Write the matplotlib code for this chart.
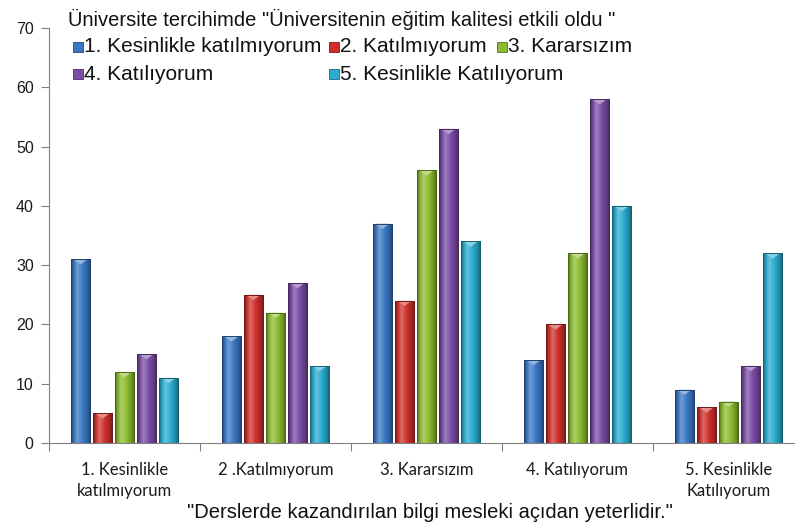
import numpy as np
import matplotlib.pyplot as plt
from matplotlib.colors import LinearSegmentedColormap, to_rgb
from matplotlib.patches import Rectangle, Polygon

# data
categories = ['1. Kesinlikle\nkatılmıyorum', '2 .Katılmıyorum', '3. Kararsızım',
              '4. Katılıyorum', '5. Kesinlikle\nKatılıyorum']
series = ['1. Kesinlikle katılmıyorum', '2. Katılmıyorum', '3. Kararsızım',
          '4. Katılıyorum', '5. Kesinlikle Katılıyorum']
s1 = [31, 18, 37, 14, 9]
s2 = [5, 25, 24, 20, 6]
s3 = [12, 22, 46, 32, 7]
s4 = [15, 27, 53, 58, 13]
s5 = [11, 13, 34, 40, 32]
values = [s1, s2, s3, s4, s5]
yticks = [0, 10, 20, 30, 40, 50, 60, 70]

title = 'Üniversite tercihimde "Üniversitenin eğitim kalitesi etkili oldu "'
xlabel = '"Derslerde kazandırılan bilgi mesleki açıdan yeterlidir."'
colors = ['#3a78c6', '#cf302b', '#8cbc30', '#7a4ca6', '#2aaccf']

W, H = 795, 528


def mix(c, other, t):
    c = np.array(to_rgb(c))
    return tuple(c * (1 - t) + np.array(other) * t)


def cyl_cmap(c):
    # dark edge -> highlight -> base -> dark edge, like the excel cylinder fill
    return LinearSegmentedColormap.from_list('cyl', [
        (0.0, mix(c, (0, 0, 0), 0.45)),
        (0.12, mix(c, (0, 0, 0), 0.1)),
        (0.32, mix(c, (1, 1, 1), 0.28)),
        (0.6, to_rgb(c)),
        (0.88, mix(c, (0, 0, 0), 0.25)),
        (1.0, mix(c, (0, 0, 0), 0.5)),
    ])


plt.rcParams['font.family'] = ['Liberation Sans', 'DejaVu Sans']
fig = plt.figure(figsize=(W / 100, H / 100), dpi=100)
ax = fig.add_axes([49 / W, 85 / H, 755 / W, 415 / H])

x = np.arange(len(categories))
pitch = 0.146
bw = 0.126
grad = np.linspace(0, 1, 64).reshape(1, -1)

for i, (vals, c) in enumerate(zip(values, colors)):
    pos = x + (i - 2) * pitch
    bars = ax.bar(pos, vals, bw, facecolor='none',
                  edgecolor=mix(c, (0, 0, 0), 0.45), linewidth=0.7, zorder=3)
    cmap = cyl_cmap(c)
    for p in bars.patches:
        x0, w, h = p.get_x(), p.get_width(), p.get_height()
        im = ax.imshow(grad, cmap=cmap, extent=[x0, x0 + w, 0, h],
                       aspect='auto', zorder=2, interpolation='bilinear')
        im.set_clip_path(p)
        cap = Polygon([[x0 + 0.12 * w, h], [x0 + 0.88 * w, h], [x0 + 0.5 * w, h - 0.9]],
                      closed=True, facecolor=mix(c, (1, 1, 1), 0.45),
                      edgecolor='none', zorder=2.5)
        ax.add_patch(cap)

ax.set_xlim(-0.5, 4.5)
ax.set_ylim(0, 70)
ax.set_yticks(yticks)
ax.set_xticks(np.arange(-0.5, 5.0, 1.0))
ax.set_xticklabels([])
ax.set_xticks(x, categories, minor=True)
ax.tick_params(axis='x', which='major', length=6, color='#808080', width=0.8)
ax.tick_params(axis='x', which='minor', length=0, pad=14, labelsize=12,
               labelcolor='#1a1a1a')
ax.tick_params(axis='y', length=6, color='#808080', width=0.8, pad=5,
               labelsize=11.5, labelcolor='#1a1a1a')
for lab in ax.get_xticklabels(minor=True):
    lab.set_family(['Lato', 'DejaVu Sans'])
    lab.set_linespacing(1.35)
for side in ['top', 'right']:
    ax.spines[side].set_visible(False)
for side in ['left', 'bottom']:
    ax.spines[side].set_color('#808080')
    ax.spines[side].set_linewidth(0.8)

fig.text(68 / W, 1 - 19 / H, title, fontsize=14.5, va='center', color='#111111')

# legend laid out like the excel one
leg_pos = [(73, 47), (329, 47), (497, 47), (73, 74), (329, 74)]
for (px, py), name, c in zip(leg_pos, series, colors):
    fig.patches.append(Rectangle((px / W, 1 - (py + 5) / H), 10 / W, 10 / H,
                                 transform=fig.transFigure, figure=fig,
                                 facecolor=c, edgecolor=mix(c, (0, 0, 0), 0.4), lw=0.6))
    fig.text((px + 11) / W, 1 - py / H, name, fontsize=15, va='center', color='#111111')

fig.text(430 / W, 1 - 513 / H, xlabel, fontsize=14.5, ha='center', va='center',
         color='#111111')

fig.savefig('out.png', dpi=100)
